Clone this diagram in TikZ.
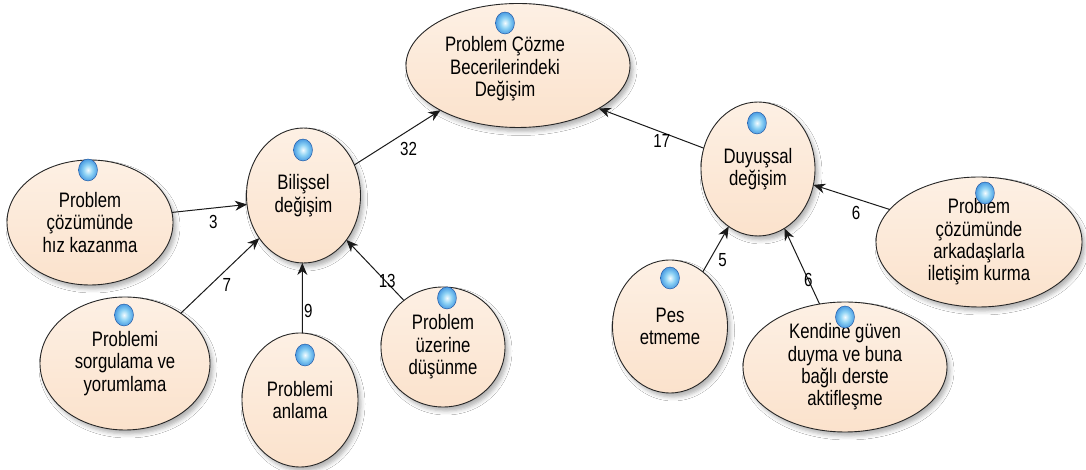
\documentclass[tikz,border=0pt]{standalone}
\usepackage{fontspec}
\setmainfont{Liberation Sans}[FakeStretch=0.8]
\usetikzlibrary{arrows.meta,shadows.blur,shapes.geometric}

\definecolor{peachtop}{HTML}{FDF0E4}
\definecolor{peachbot}{HTML}{FBE2CC}
\definecolor{edgeink}{HTML}{1A1A1A}
\definecolor{mkcore}{HTML}{F4FCFF}
\definecolor{mkmid}{HTML}{8FD3F5}
\definecolor{mkring}{HTML}{2F86DA}
\definecolor{mkedge}{HTML}{1C4F9C}

% glossy blue marker shown at the top of every concept
\pgfdeclareradialshading{bubble}{\pgfpointorigin}{%
  color(0bp)=(mkcore);
  color(12bp)=(mkmid);
  color(30bp)=(mkring);
  color(44bp)=(mkedge);
  color(50bp)=(mkedge)}

\newcommand{\nodefont}{\fontsize{21}{22.5}\selectfont}
\newcommand{\numfont}{\fontsize{19}{21}\selectfont}

\tikzset{
  bub/.style={ellipse, draw=black!85, line width=0.9bp,
    top color=peachtop, bottom color=peachbot,
    inner sep=0pt, outer sep=0pt, align=center, font=\nodefont,
    blur shadow={shadow xshift=3bp, shadow yshift=-4bp,
      shadow blur radius=4bp, shadow opacity=30}},
  txt/.style={inner sep=0pt, align=center, font=\nodefont},
  marker/.style={ellipse, minimum width=19bp, minimum height=22bp,
    inner sep=0pt, shading=bubble, draw=mkedge, line width=0.4bp},
  arr/.style={-{Stealth[length=12bp,width=10bp]}, line width=1bp, draw=edgeink},
  num/.style={inner sep=0pt, font=\numfont}
}

\begin{document}
\begin{tikzpicture}[x=1bp,y=1bp]
\useasboundingbox[fill=white] (0,0) rectangle (1086,470);

% concepts
\node[bub, minimum width=224bp, minimum height=124bp] (top) at (518,404.5) {};
\node[txt] (topt) at (505,401) {Problem Çözme\\Becerilerindeki\\Değişim};

\node[bub, minimum width=114bp, minimum height=135bp] (bil) at (303.5,274.5) {Bilişsel\\değişim};
\node[bub, minimum width=166bp, minimum height=125bp] (hiz) at (90,247.5) {Problem\\çözümünde\\hız kazanma};
\node[bub, minimum width=170bp, minimum height=133bp] (sorg) at (125,106.5) {Problemi\\sorgulama ve\\yorumlama};
\node[bub, minimum width=116bp, minimum height=134bp] (anl) at (300,70) {Problemi\\anlama};
\node[bub, minimum width=124bp, minimum height=120bp] (dus) at (443,123) {Problem\\üzerine\\düşünme};

\node[bub, minimum width=114bp, minimum height=134bp] (duy) at (758,301) {Duyuşsal\\değişim};
\node[bub, minimum width=115bp, minimum height=133bp] (pes) at (670,143.5) {Pes\\etmeme};
\node[bub, minimum width=204bp, minimum height=130bp] (ken) at (845,103) {Kendine güven\\duyma ve buna\\bağlı derste\\aktifleşme};
\node[bub, minimum width=206bp, minimum height=130bp] (ark) at (979,228) {Problem\\çözümünde\\arkadaşlarla\\iletişim kurma};

% weighted links
\draw[arr] (hiz.7.5)   -- (bil.189.4) node[num, pos=0.55, yshift=-14bp] (n3) {3};
\draw[arr] (sorg.42)   -- (bil.224)   node[num, pos=0.6, xshift=-1bp, yshift=-17bp] (n7) {7};
\draw[arr] (anl.88)    -- (bil.269)   node[num, pos=0.32, xshift=6bp] (n9) {9};
\draw[arr] (dus.130)   -- (bil.314)   node[num, pos=0.29, yshift=2bp] (n13) {13};
\draw[arr] (bil.31)    -- (top.210.7) node[num, pos=0.63, yshift=-18bp] (n32) {32};
\draw[arr] (duy.159)   -- (top.332.5) node[num, pos=0.4, yshift=-9bp] (n17) {17};
\draw[arr] (pes.59.7)  -- (duy.243.8) node[num, pos=0.26, xshift=13bp] (n5) {5};
\draw[arr] (ken.112.5) -- (duy.294.4) node[num, pos=0.32] (n6k) {6};
\draw[arr] (ark.160.4) -- (duy.344.3) node[num, pos=0.44, yshift=-14bp] (n6a) {6};

% markers
\node[marker] (top-m)  at (505,447) {};
\node[marker] (bil-m)  at (303,320) {};
\node[marker] (hiz-m)  at (88,300) {};
\node[marker] (sorg-m) at (124,155) {};
\node[marker] (anl-m)  at (305,115) {};
\node[marker] (dus-m)  at (447,172) {};
\node[marker] (duy-m)  at (757,347) {};
\node[marker] (pes-m)  at (670,192) {};
\node[marker] (ken-m)  at (845,153) {};
\node[marker] (ark-m)  at (985,277) {};
\end{tikzpicture}
\end{document}
